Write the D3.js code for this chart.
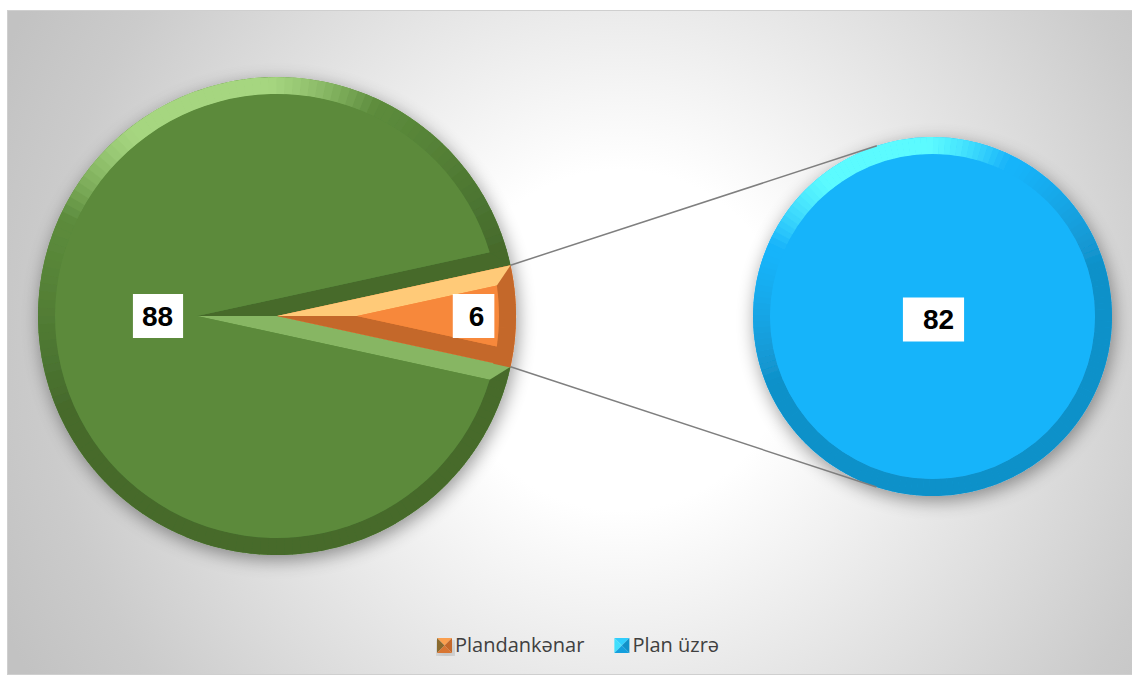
<!DOCTYPE html>
<html>
<head>
<meta charset="utf-8">
<script src="https://cdn.jsdelivr.net/npm/d3@7"></script>
<style>
  body { margin: 0; background: #fff; }
  text { font-family: "Open Sans", sans-serif; }
</style>
</head>
<body>
<svg id="chart" width="1132" height="676"></svg>
<script>
// values
const legendNames = ["Plandankənar", "Plan üzrə"];
const mainValues = [82, 6];        // left pie: green part, orange part
const mainLabels = ["88", "6"];
const secondValues = [82];         // right pie
const secondLabels = ["82"];

const palette = {
    green:  {base: '#5b8a3b', hi: '#a6d680', lo: '#466b2c'},
    orange: {base: '#f7883a', hi: '#ffca78', lo: '#c4682b'},
    blue:   {base: '#19b4fa', hi: '#5cfbff', lo: '#1191c9'}
};
const mainColours = [palette.green, palette.orange];

const W = 1132, H = 676;
const main = {cx: 277, cy: 316, r: 239};
const second = {cx: 932.5, cy: 316.5, r: 179.5};
const bevel = 17;
const light = [Math.cos(-110 * Math.PI / 180), Math.sin(-110 * Math.PI / 180)];

const svg = d3.select('#chart');
const defs = svg.append('defs');

// background
const bg = defs.append('radialGradient')
    .attr('id', 'bg')
    .attr('gradientUnits', 'userSpaceOnUse')
    .attr('cx', 620).attr('cy', 340).attr('r', 680);
[[0, '#ffffff'], [0.25, '#ffffff'], [0.85, '#cbcbcb'], [1, '#c2c2c2']].forEach(([o, c]) =>
    bg.append('stop').attr('offset', o).attr('stop-color', c));

const shadow = defs.append('filter')
    .attr('id', 'shadow')
    .attr('x', '-20%').attr('y', '-20%').attr('width', '140%').attr('height', '140%');
shadow.append('feGaussianBlur').attr('in', 'SourceAlpha').attr('stdDeviation', 9).attr('result', 'blur');
shadow.append('feOffset').attr('in', 'blur').attr('dx', 2).attr('dy', 5).attr('result', 'off');
shadow.append('feComponentTransfer').attr('in', 'off').attr('result', 'sh')
    .append('feFuncA').attr('type', 'linear').attr('slope', 0.4);
const merge = shadow.append('feMerge');
merge.append('feMergeNode').attr('in', 'sh');
merge.append('feMergeNode').attr('in', 'SourceGraphic');

svg.append('rect')
    .attr('x', 7.5).attr('y', 10.5)
    .attr('width', W).attr('height', 664)
    .attr('fill', 'url(#bg)')
    .attr('stroke', '#cfcfcf');

// helpers
const clamp = v => Math.max(0, Math.min(1, v));
const dir = a => [Math.sin(a), -Math.cos(a)];   // d3 angle -> screen unit vector

function shade(col, n) {
    const t = n[0] * light[0] + n[1] * light[1];
    const lit = clamp((t - 0.7) / 0.25);
    if (lit > 0) return d3.interpolateRgb(col.base, col.hi)(lit);
    return d3.interpolateRgb(col.base, col.lo)(clamp((0.65 - t) / 0.7));
}

function drawSlice(g, a0, a1, r, col) {
    const full = a1 - a0 > 2 * Math.PI - 1e-6;

    g.append('path')
        .attr('d', d3.arc().innerRadius(0).outerRadius(r).startAngle(a0).endAngle(a1)())
        .attr('fill', col.base);

    // outer rim, shaded by its normal
    const n = Math.ceil((a1 - a0) / (Math.PI / 90));
    const step = (a1 - a0) / n;
    g.selectAll(null)
        .data(d3.range(n))
        .enter()
        .append('path')
            .attr('d', i => d3.arc()
                .innerRadius(r - bevel - 0.5).outerRadius(r)
                .startAngle(a0 + i * step).endAngle(a0 + (i + 1) * step + 0.003)())
            .attr('fill', i => shade(col, dir(a0 + (i + 0.5) * step)));

    if (full) {
        g.append('circle').attr('r', r - bevel).attr('fill', col.base);
        return;
    }

    const h = (a1 - a0) / 2;
    const u = dir((a0 + a1) / 2);
    const off = bevel / Math.sin(h);
    const P = [u[0] * off, u[1] * off];
    const e0 = dir(a0), e1 = dir(a1);
    const hit = e => {
        const b = P[0] * e[0] + P[1] * e[1];
        const c = P[0] * P[0] + P[1] * P[1] - (r - bevel) ** 2;
        const s = -b + Math.sqrt(b * b - c);
        return [P[0] + s * e[0], P[1] + s * e[1]];
    };
    const B0 = hit(e0), B1 = hit(e1);
    const A0 = [r * e0[0], r * e0[1]], A1 = [r * e1[0], r * e1[1]];

    [[A0, B0, dir(a0 - Math.PI / 2)], [A1, B1, dir(a1 + Math.PI / 2)]].forEach(([A, B, nrm]) => {
        const p = d3.path();
        p.moveTo(P[0], P[1]);
        p.lineTo(0, 0);
        p.lineTo(A[0], A[1]);
        p.lineTo(B[0], B[1]);
        p.closePath();
        g.append('path').attr('d', p.toString()).attr('fill', shade(col, nrm));
    });

    const p = d3.path();
    p.moveTo(P[0], P[1]);
    p.lineTo(B0[0], B0[1]);
    p.arc(0, 0, r - bevel, Math.atan2(B0[1], B0[0]), Math.atan2(B1[1], B1[0]), false);
    p.closePath();
    g.append('path').attr('d', p.toString()).attr('fill', col.base);
}

function addLabel(x, y, txt, padL) {
    const lg = svg.append('g');
    const t = lg.append('text')
        .attr('x', x).attr('y', y)
        .attr('text-anchor', 'middle')
        .attr('dominant-baseline', 'central')
        .style('font-family', '"Liberation Sans", Arial, sans-serif')
        .style('font-weight', 'bold')
        .style('font-size', '28px')
        .attr('fill', '#000')
        .text(txt);
    const bb = t.node().getBBox();
    lg.insert('rect', 'text')
        .attr('x', bb.x - padL).attr('y', y - 22)
        .attr('width', bb.width + padL + 10).attr('height', 44)
        .attr('fill', '#fff');
}

// main pie: orange part centred on the right-hand side
const orangeFrac = mainValues[1] / d3.sum(mainValues);
const start = Math.PI / 2 + Math.PI * orangeFrac - 2 * Math.PI;
const mainArcs = d3.pie().sort(null).value(d => d)
    .startAngle(start).endAngle(start + 2 * Math.PI)(mainValues);

const gMain = svg.append('g')
    .attr('transform', `translate(${main.cx},${main.cy})`)
    .attr('filter', 'url(#shadow)');
mainArcs.forEach((a, i) => drawSlice(gMain.append('g'), a.startAngle, a.endAngle, main.r, mainColours[i]));

const secondArcs = d3.pie().sort(null).value(d => d)(secondValues);
const gSecond = svg.append('g')
    .attr('transform', `translate(${second.cx},${second.cy})`)
    .attr('filter', 'url(#shadow)');
secondArcs.forEach(a => drawSlice(gSecond.append('g'), a.startAngle, a.endAngle, second.r, palette.blue));

// connector lines: from the split slice's corners, tangent to the second pie
const split = mainArcs[1];
[[split.startAngle, 1], [split.endAngle, -1]].forEach(([ang, sgn]) => {
    const e = dir(ang);
    const ax = main.cx + main.r * e[0], ay = main.cy + main.r * e[1];
    const vx = ax - second.cx, vy = ay - second.cy;
    const D = Math.hypot(vx, vy);
    const t = Math.atan2(vy, vx) + sgn * Math.acos(second.r / D);
    svg.append('line')
        .attr('x1', ax).attr('y1', ay)
        .attr('x2', second.cx + second.r * Math.cos(t))
        .attr('y2', second.cy + second.r * Math.sin(t))
        .attr('stroke', '#7f7f7f')
        .attr('stroke-width', 1.5);
});

// data labels
const labelPos = [0.5, 0.835];
mainArcs.forEach((a, i) => {
    const e = dir((a.startAngle + a.endAngle) / 2);
    addLabel(main.cx + e[0] * main.r * labelPos[i], main.cy + e[1] * main.r * labelPos[i], mainLabels[i], i === 0 ? 9 : 16);
});
secondArcs.forEach((a, i) => addLabel(second.cx + 6, second.cy + 3, secondLabels[i], 20));

// legend
const legendColours = [palette.orange, palette.blue];
let lx = 437;
const ly = 638, sz = 15;
legendNames.forEach((name, i) => {
    const c = legendColours[i];
    const g = svg.append('g').attr('transform', `translate(${lx},${ly})`);
    if (i === 0) g.attr('filter', 'url(#shadow)');
    const tri = [
        [[0, 0], [sz, 0], [sz / 2, sz / 2], d3.interpolateRgb(c.base, c.hi)(0.35)],
        [[0, 0], [0, sz], [sz / 2, sz / 2], i === 0 ? '#8a6a2e' : d3.interpolateRgb(c.base, c.hi)(0.6)],
        [[sz, 0], [sz, sz], [sz / 2, sz / 2], c.lo],
        [[0, sz], [sz, sz], [sz / 2, sz / 2], d3.interpolateRgb(c.base, c.lo)(0.6)]
    ];
    tri.forEach(([p1, p2, p3, f]) => g.append('path')
        .attr('d', `M${p1}L${p2}L${p3}Z`)
        .attr('fill', f));
    const t = svg.append('text')
        .attr('x', lx + sz + 3).attr('y', 652)
        .style('font-size', '20px')
        .attr('fill', '#404040')
        .text(name);
    lx += sz + 3 + t.node().getComputedTextLength() + 30;
});
</script>
</body>
</html>
